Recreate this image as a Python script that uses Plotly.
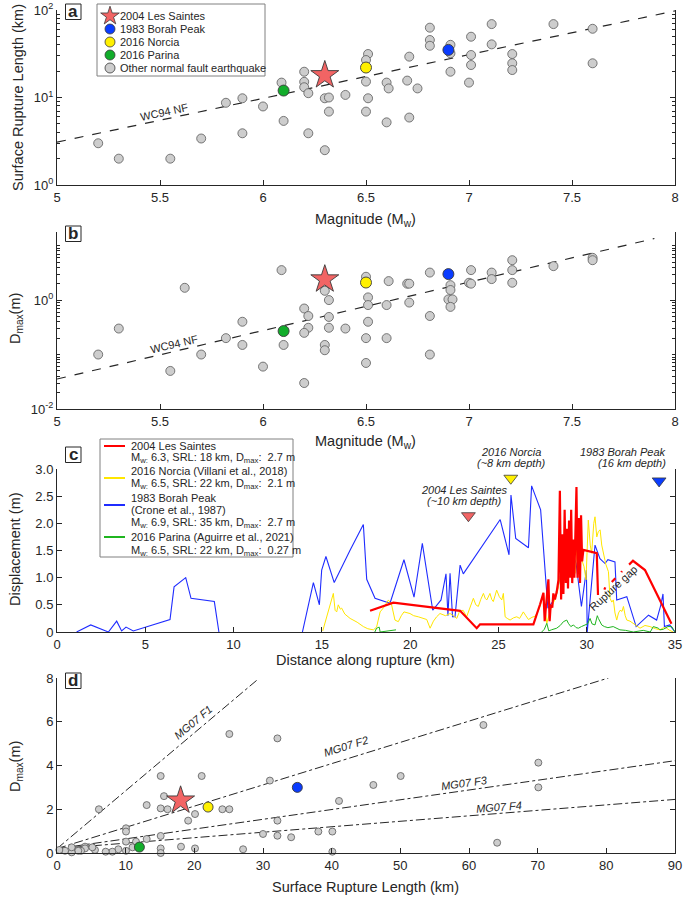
import plotly.graph_objects as go

W, H = 685, 900
FONT = "Liberation Sans, Arial, Helvetica, sans-serif"
INK = "#262626"
GREY_FILL = "#cdcdcd"
GREY_EDGE = "#5a5a5a"
C_RED, C_BLUE, C_YEL, C_GRN = "#f26464", "#0a3cff", "#fff000", "#12ad2b"

# ---------------- data ----------------
event_names = ["2004 Les Saintes", "1983 Borah Peak", "2016 Norcia", "2016 Parina"]
event_mag = [6.3, 6.9, 6.5, 6.1]
event_srl = [18, 35, 22, 12]
event_dmax = [2.4, 3.0, 2.1, 0.27]

# panel a: other normal-fault earthquakes (Mw, SRL km)
a_mag = [5.2, 5.3, 5.55, 5.7, 5.82, 5.9, 5.9, 6.0, 6.09, 6.1, 6.2, 6.2, 6.2, 6.22, 6.22,
         6.3, 6.32, 6.32, 6.3, 6.4, 6.51, 6.5, 6.5, 6.51, 6.5, 6.6, 6.61, 6.6, 6.71, 6.7,
         6.75, 6.71, 6.81, 6.81, 6.81, 6.91, 6.91, 6.91, 7.01, 7.01, 7.01, 7.0, 7.11, 7.11,
         7.21, 7.21, 7.21, 7.41, 7.6, 7.6]
a_srl = [3.0, 2.0, 2.0, 3.4, 8.7, 9.8, 3.9, 7.9, 14.8, 5.4, 19.7, 15.1, 13.1, 11.2, 3.9,
         9.8, 10.0, 6.9, 2.5, 10.7, 31.4, 26.8, 15.2, 9.8, 6.9, 14.8, 12.7, 5.2, 29.3, 15.6,
         12.7, 5.9, 62.8, 45.4, 39.0, 40.0, 32.0, 19.7, 49.5, 30.6, 23.5, 14.8, 69.0, 40.5,
         31.4, 24.6, 20.6, 69.0, 61.0, 24.6]
wc94_srl_mag = [5.0, 8.0]
wc94_srl_val = [3.09, 97.7]

# panel b: other normal-fault earthquakes (Mw, Dmax m)
b_mag = [5.2, 5.3, 5.55, 5.62, 5.7, 5.82, 5.9, 5.9, 6.0, 6.09, 6.1, 6.2, 6.22, 6.22, 6.2,
         6.2, 6.3, 6.32, 6.32, 6.32, 6.3, 6.3, 6.4, 6.5, 6.51, 6.51, 6.51, 6.5, 6.5, 6.61,
         6.6, 6.6, 6.7, 6.71, 6.71, 6.81, 6.81, 6.81, 6.91, 6.91, 6.9, 6.92, 6.91, 7.01,
         7.0, 7.01, 7.11, 7.11, 7.21, 7.21, 7.21, 7.41, 7.6, 7.6]
b_dmax = [0.1, 0.3, 0.05, 1.68, 0.1, 0.2, 0.4, 0.15, 0.06, 3.55, 0.15, 0.7, 0.51, 0.31, 0.25,
          0.03, 1.48, 1.0, 0.49, 0.31, 0.15, 0.12, 0.3, 2.68, 1.12, 0.81, 0.4, 0.2, 0.07, 2.23,
          0.81, 0.2, 2.0, 2.0, 0.9, 3.2, 0.51, 0.1, 1.88, 1.53, 1.03, 1.03, 0.75, 3.55,
          2.08, 2.0, 3.2, 2.43, 5.4, 3.55, 2.08, 4.2, 5.97, 5.4]
wc94_md_mag = [5.0, 7.9]
wc94_md_val = [0.0355, 13.5]

# panel c: displacement profiles (distance km, displacement m)
saintes_d = [17.73, 19.05, 22.83, 23.77, 23.96, 26.98, 27.36, 27.55, 27.62, 27.70, 27.83, 27.90,
             27.96, 28.05, 28.11, 28.20, 28.30, 28.40, 28.48, 28.55, 28.62, 28.68, 28.75, 28.82,
             28.88, 28.94, 29.00, 29.06, 29.12, 29.18, 29.24, 29.30, 29.36, 29.42, 29.48, 29.55,
             29.62, 29.68, 29.74, 29.81, 30.57, 30.64, None, 31.00, 31.05, None, 31.42, 31.62,
             None, 31.96, 32.00, None, 32.40, 32.62, 33.30, 34.80]
saintes_v = [0.39, 0.54, 0.39, 0.07, 0.14, 0.14, 0.51, 0.72, 0.20, 0.45, 0.97, 0.20,
             0.50, 0.45, 0.71, 0.60, 0.74, 0.96, 2.60, 0.60, 1.80, 0.70, 2.25, 0.90,
             1.90, 0.80, 2.05, 1.00, 2.25, 0.90, 1.70, 1.00, 2.05, 2.67, 1.00, 2.10,
             0.90, 2.15, 1.30, 1.51, 1.45, 0.68, None, 0.78, 0.82, None, 0.92, 0.99,
             None, 1.10, 1.12, None, 1.24, 1.31, 1.14, 0.15]

norcia_d = [15.05, 15.35, 15.65, 15.75, 15.84, 15.93, 16.05, 16.12, 16.3, 16.6, 17.0, 17.35, 17.6,
            17.92, 18.1, 18.3, 18.5, 18.77, 18.95, 19.14, 19.33, 19.5, 19.65, 19.99, 20.2, 20.46,
            20.7, 20.94, 21.13, 21.32, 21.5, 21.69, 22.0, 22.26, 22.45, 22.64, 22.8, 23.0, 23.2,
            23.4, 23.58, 23.72, 23.86, 24.0, 24.15, 24.25, 24.34, 24.52, 24.62, 24.71, 24.9,
            25.05, 25.19, 25.28, 25.38, 25.5, 25.66, 25.85, 26.04, 26.2, 26.41, 26.55, 26.7,
            26.9, 27.07, 27.2, 27.36, 27.55, 27.74, 27.9, 28.02, 28.2, 28.35, 28.49, 28.6, 28.75,
            28.87, 29.0, 29.1, 29.2, 29.34, 29.45, 29.53, 29.62, 29.72, 29.85, 29.96, 30.09,
            30.2, 30.28, 30.4, 30.47, 30.57, 30.66, 30.76, 30.85, 30.94, 31.08, 31.23, 31.32,
            31.42, 31.51, 31.6, 31.7, 31.8, 31.89, 32.0, 32.08, 32.18, 32.27, 32.45, 32.64,
            32.8, 33.02, 33.3, 33.58, 33.9, 34.15, 34.35, 34.53, 34.7, 34.9]
norcia_v = [0.02, 0.35, 0.71, 0.40, 0.37, 0.50, 0.42, 0.44, 0.33, 0.25, 0.18, 0.10, 0.06,
            0.04, 0.09, 0.37, 0.45, 0.59, 0.50, 0.22, 0.19, 0.30, 0.37, 0.34, 0.30, 0.28,
            0.25, 0.23, 0.07, 0.20, 0.28, 0.34, 0.30, 0.34, 0.30, 0.25, 0.38, 0.40, 0.28,
            0.45, 0.62, 0.50, 0.47, 0.60, 0.71, 0.62, 0.59, 0.71, 0.60, 0.56, 0.77,
            0.65, 0.59, 0.71, 0.28, 0.25, 0.22, 0.26, 0.28, 0.25, 0.37, 0.30, 0.23,
            0.27, 0.29, 0.35, 0.47, 0.72, 0.16, 0.35, 0.47, 0.60, 0.75, 1.02, 0.95, 1.30,
            1.51, 1.20, 1.05, 1.30, 1.08, 1.60, 1.69, 1.40, 1.33, 1.20, 0.96, 2.06,
            1.60, 1.45, 2.00, 2.12, 1.75, 1.85, 1.88, 1.60, 1.45, 1.25, 1.11, 0.62,
            0.55, 0.59, 0.35, 0.22, 0.35, 0.40, 0.38, 0.47, 0.30, 0.22, 0.20, 0.16,
            0.12, 0.07, 0.12, 0.10, 0.06, 0.04, 0.08, 0.07, 0.03, 0.0]

borah_d = [1.11, 1.91, 2.91, 3.38, 3.66, 3.91, 4.32, 6.40, 6.63, 7.29, 7.59, 8.91, 9.17, None,
           13.90, 14.52, 14.86, 14.99, 15.23, 15.70, 16.59, 17.35, 17.54, 18.01, 18.86, 19.65,
           20.22, 20.69, 21.28, 21.75, 22.03, 22.14, 22.26, 22.40, 22.54, 22.83, 23.01, 25.10,
           25.60, 25.71, 25.98, 26.70, 26.88, 27.39, 27.80, 28.08, 28.30, 28.77, 29.06, 29.40,
           29.70, 29.98, 30.03, 30.47, 30.75, 31.04, 31.20, 31.60, 31.70, 32.27, 32.80, 33.50,
           33.96, 34.20, 34.32, 34.40, 34.70, 34.90, 35.00]
borah_v = [0.0, 0.13, 0.0, 0.20, 0.02, 0.09, 0.02, 0.23, 0.83, 1.00, 0.62, 0.56, 0.0, None,
           0.0, 0.91, 0.50, 1.14, 1.39, 0.91, 1.50, 1.98, 0.97, 0.62, 0.53, 1.33,
           0.64, 1.63, 0.40, 0.59, 1.07, 0.30, 1.08, 0.28, 0.28, 1.23, 1.07, 2.07,
           1.42, 2.52, 1.72, 1.55, 2.69, 2.25, 0.44, 0.56, 0.71, 1.45, 1.57, 1.26,
           0.47, 1.14, 0.0, 1.60, 1.35, 1.26, 1.33, 1.29, 0.59, 0.65, 0.10, 0.31,
           0.22, 0.50, 0.70, 0.10, 0.13, 0.04, 0.0]

parina_d = [18.0, 18.1, 18.25, 18.3, 19.2, None, 27.45, 27.6, 27.74, 27.85, 28.0, 28.3, 28.5,
            28.68, 28.87, 28.96, 29.1, 29.25, 29.4, 29.53, 29.7, 29.9, 30.05, 30.19, 30.3,
            30.47, 30.6, 30.66, 30.85, 31.0, 31.2, 31.5, 31.88, 32.2, 32.64, 33.2, 33.6,
            33.77, 34.06, 34.15, 34.34, 34.6, 34.81, 35.0]
parina_v = [0.0, 0.07, 0.09, 0.0, 0.04, None, 0.0, 0.05, 0.16, 0.02, 0.04, 0.07, 0.12,
            0.19, 0.22, 0.16, 0.10, 0.13, 0.08, 0.07, 0.10, 0.13, 0.15, 0.25, 0.15,
            0.13, 0.30, 0.25, 0.13, 0.10, 0.08, 0.10, 0.04, 0.03, 0.0, 0.03, 0.0,
            0.10, 0.07, 0.04, 0.05, 0.10, 0.10, 0.0]

epi_d = [23.3, 25.7, 34.1]
epi_v = [2.14, 2.83, 2.78]

# panel d: other normal-fault earthquakes (SRL km, Dmax m)
d_srl = [6.1, 13.06, 15.1, 15.58, 15.1, 16.1, 19.1, 20.1, 21.07, 24.08, 25.1, 25.1, 31.0, 32.1,
         32.1, 30.0, 32.1, 34.1, 38.06, 40.1, 40.1, 41.07, 27.1, 20.1, 18.06, 15.1, 15.1, 15.1,
         13.06, 11.5, 10.05, 10.05, 10.05, 10.05, 11.0, 8.93, 8.06, 7.09, 5.53, 5.15, 4.08,
         4.08, 3.5, 3.1, 2.14, 2.14, 1.17, 0.34, 62.1, 70.1, 70.1, 50.05, 46.07, 64.1]
d_dmax = [2.0, 2.19, 3.52, 2.6, 2.04, 2.0, 1.48, 1.78, 3.52, 2.0, 2.0, 5.44, 3.31, 5.24,
          1.48, 0.87, 0.79, 0.72, 0.98, 0.98, 0.06, 2.38, 0.17, 0.21, 0.29, 0.21, 0.0, 0.78,
          0.64, 0.52, 1.13, 0.98, 0.52, 0.1, 0.26, 0.17, 0.06, 0.06, 0.14, 0.26, 0.29,
          0.21, 0.1, 0.1, 0.03, 0.26, 0.1, 0.14, 5.85, 4.13, 3.0, 3.52, 3.11, 0.47]
mg07_names = ["MG07 F1", "MG07 F2", "MG07 F3", "MG07 F4"]
mg07_L = [[0, 29.3], [0, 80.3], [0, 90], [0, 90]]
mg07_D = [[0.2, 7.95], [0.2, 8.0], [0.2, 4.22], [0.2, 2.45]]

# ---------------- figure ----------------
fig = go.Figure()


def grey(x, y, xa, ya, size):
    fig.add_trace(go.Scatter(x=x, y=y, mode="markers", xaxis=xa, yaxis=ya, cliponaxis=False,
                             hoverinfo="skip",
                             marker=dict(size=size, color=GREY_FILL,
                                         line=dict(color=GREY_EDGE, width=0.8))))


def events(xs, ys, xa, ya, csize, ssize):
    cols = [C_RED, C_BLUE, C_YEL, C_GRN]
    order = [3, 2, 1, 0]
    for i in order:
        sym = "star" if i == 0 else "circle"
        fig.add_trace(go.Scatter(x=[xs[i]], y=[ys[i]], mode="markers", xaxis=xa, yaxis=ya,
                                 cliponaxis=False, hoverinfo="skip",
                                 marker=dict(symbol=sym, size=ssize if i == 0 else csize,
                                             color=cols[i], line=dict(color="#3a3a3a", width=0.9))))


# panel a
fig.add_trace(go.Scatter(x=wc94_srl_mag, y=wc94_srl_val, mode="lines", xaxis="x", yaxis="y",
                         hoverinfo="skip", line=dict(color=INK, width=1.2, dash="dash")))
grey(a_mag, a_srl, "x", "y", 9)
events(event_mag, event_srl, "x", "y", 11, 21)

# panel b
fig.add_trace(go.Scatter(x=wc94_md_mag, y=wc94_md_val, mode="lines", xaxis="x2", yaxis="y2",
                         hoverinfo="skip", line=dict(color=INK, width=1.2, dash="dash")))
grey(b_mag, b_dmax, "x2", "y2", 9)
events(event_mag, event_dmax, "x2", "y2", 11, 21)

# panel c
for dd, vv, col, w in [(borah_d, borah_v, "#1f2cff", 1.1), (norcia_d, norcia_v, "#ffe600", 1.0),
                       (parina_d, parina_v, "#1fb51f", 1.0), (saintes_d, saintes_v, "#ff0000", 2.2)]:
    fig.add_trace(go.Scatter(x=dd, y=vv, mode="lines", xaxis="x3", yaxis="y3", hoverinfo="skip",
                             line=dict(color=col, width=w), connectgaps=False))
fig.add_trace(go.Scatter(x=epi_d, y=epi_v, mode="markers", xaxis="x3", yaxis="y3", cliponaxis=False,
                         hoverinfo="skip",
                         marker=dict(symbol="triangle-down", size=12, color=[C_RED, C_YEL, C_BLUE],
                                     line=dict(color="#3a3a3a", width=0.8))))

# panel d
for L, D in zip(mg07_L, mg07_D):
    fig.add_trace(go.Scatter(x=L, y=D, mode="lines", xaxis="x4", yaxis="y4", hoverinfo="skip",
                             line=dict(color=INK, width=1, dash="dashdot")))
grey(d_srl, d_dmax, "x4", "y4", 7)
events(event_srl, event_dmax, "x4", "y4", 10, 21)

# legend glyphs for panel a on a pixel overlay axis
leg_rows = [16, 29, 42, 55, 68]
leg_cols = [C_RED, C_BLUE, C_YEL, C_GRN, GREY_FILL]
leg_syms = ["star", "circle", "circle", "circle", "circle"]
for yy, cc, ss in zip(leg_rows, leg_cols, leg_syms):
    fig.add_trace(go.Scatter(x=[110], y=[yy], mode="markers", xaxis="x5", yaxis="y5", cliponaxis=False,
                             hoverinfo="skip",
                             marker=dict(symbol=ss, size=14 if ss == "star" else 10, color=cc,
                                         line=dict(color="#3a3a3a", width=0.8))))


def ax(**kw):
    d = dict(showline=True, linecolor=INK, linewidth=1, ticks="inside", ticklen=5, tickcolor=INK,
             tickwidth=1, showgrid=False, zeroline=False, automargin=False, fixedrange=True,
             tickfont=dict(family=FONT, size=13, color=INK))
    d.update(kw)
    return d


xdom = [57 / W, 675 / W]


def ydom(top, bot):
    return [1 - bot / H, 1 - top / H]


minor_a = [k * 10 ** e for e in (0, 1) for k in range(2, 10)]
minor_b = [k * 10 ** e for e in (-2, -1, 0) for k in range(1, 10) if not (e == -2 and k == 1)] + [10]
mag_ticks = [5, 5.5, 6, 6.5, 7, 7.5, 8]
mag_text = ["5", "5.5", "6", "6.5", "7", "7.5", "8"]

layout = dict(
    width=W, height=H, margin=dict(l=0, r=0, t=0, b=0), paper_bgcolor="white",
    plot_bgcolor="rgba(0,0,0,0)", showlegend=False, template="none", hovermode=False,
    font=dict(family=FONT, color=INK),
    xaxis=ax(domain=xdom, range=[5, 8], tickvals=mag_ticks, ticktext=mag_text, anchor="y"),
    yaxis=ax(domain=ydom(10, 185), type="log", range=[0, 2], tickvals=[1, 10, 100],
             ticktext=["10<sup>0</sup>", "10<sup>1</sup>", "10<sup>2</sup>"], mirror="ticks", anchor="x",
             minor=dict(tickmode="array", tickvals=minor_a, ticks="inside", ticklen=3, tickcolor=INK)),
    xaxis2=ax(domain=xdom, range=[5, 8], tickvals=mag_ticks, ticktext=mag_text, anchor="y2"),
    yaxis2=ax(domain=ydom(232, 409), type="log", range=[-2, 1.25], tickvals=[0.01, 1],
              ticktext=["10<sup>-2</sup>", "10<sup>0</sup>"], mirror="ticks", anchor="x2",
              minor=dict(tickmode="array", tickvals=minor_b, ticks="inside", ticklen=3, tickcolor=INK)),
    xaxis3=ax(domain=xdom, range=[0, 35], tickvals=[0, 5, 10, 15, 20, 25, 30, 35], anchor="y3"),
    yaxis3=ax(domain=ydom(469, 632), range=[0, 3], tickvals=[0, 0.5, 1, 1.5, 2, 2.5, 3],
              ticktext=["0", "0.5", "1.0", "1.5", "2.0", "2.5", "3.0"], mirror="ticks", anchor="x3"),
    xaxis4=ax(domain=xdom, range=[0, 90], tickvals=list(range(0, 91, 10)), anchor="y4"),
    yaxis4=ax(domain=ydom(678, 853), range=[0, 8], tickvals=[0, 2, 4, 6, 8], mirror="ticks", anchor="x4"),
    xaxis5=dict(domain=[0, 1], range=[0, W], visible=False, fixedrange=True, anchor="y5"),
    yaxis5=dict(domain=[0, 1], range=[H, 0], visible=False, fixedrange=True, anchor="x5"),
)
fig.update_layout(**layout)

annotations = []
shapes = []


def note(text, x, y, size=11, xanchor="center", yanchor="middle", angle=0, italic=False,
         xref="paper", yref="paper", **kw):
    if xref == "paper":
        x = x / W
    if yref == "paper":
        y = 1 - y / H
    if italic:
        text = "<i>" + text + "</i>"
    a = dict(text=text, x=x, y=y, xref=xref, yref=yref, xanchor=xanchor, yanchor=yanchor,
             showarrow=False, textangle=angle, font=dict(family=FONT, size=size, color=INK))
    a.update(kw)
    annotations.append(a)


def rect(x0, y0, x1, y1, color=INK, width=1):
    shapes.append(dict(type="rect", xref="paper", yref="paper", x0=x0 / W, x1=x1 / W,
                       y0=1 - y1 / H, y1=1 - y0 / H, line=dict(color=color, width=width)))


# axis titles
note("Surface Rupture Length (km)", 18, 98, size=14.5, angle=-90)
note("Magnitude (M<sub>w</sub>)", 366, 220, size=14.5)
note("D<sub>max</sub>(m)", 16, 318, size=14.5, angle=-90)
note("Magnitude (M<sub>w</sub>)", 366, 442, size=14.5)
note("Displacement (m)", 15, 549, size=14.5, angle=-90)
note("Distance along rupture (km)", 366, 660, size=14.5)
note("D<sub>max</sub>(m)", 16, 766, size=14.5, angle=-90)
note("Surface Rupture Length (km)", 366, 887, size=14.5)

# panel letters
for letter, (x0, y0) in zip("abcd", [(65.5, 4), (65.5, 226), (65.5, 447), (65.5, 673)]):
    rect(x0, y0, x0 + 15.5, y0 + 15.5)
    note("<b>" + letter + "</b>", x0 + 7.75, y0 + 7.5, size=17)

# panel a legend
rect(97, 4, 265, 76, color="#808080")
for yy, nm in zip(leg_rows, event_names + ["Other normal fault earthquake"]):
    note(nm, 118, yy, size=11, xanchor="left")

# regression labels
note("WC94 NF", 5.52, 0.75, size=11, angle=-12.2, xref="x", yref="y", yshift=7)
note("WC94 NF", 5.57, -0.943, size=11, angle=-13.2, xref="x2", yref="y2", yshift=7)

# panel c legend
rect(100, 439, 293, 557, color="#808080")
for yy, col in zip([446, 478, 505, 537], ["#ff0000", "#ffe600", "#1f2cff", "#1fb51f"]):
    shapes.append(dict(type="line", xref="paper", yref="paper", x0=104 / W, x1=125 / W,
                       y0=1 - yy / H, y1=1 - yy / H, line=dict(color=col, width=2)))
leg_c_lines = [
    (446, "2004 Les Saintes"),
    (458, "M<sub>w:</sub> 6.3, SRL: 18 km, D<sub>max</sub>:  2.7 m"),
    (471, "2016 Norcia (Villani et al., 2018)"),
    (484, "M<sub>w:</sub> 6.5, SRL: 22 km, D<sub>max</sub>:  2.1 m"),
    (498, "1983 Borah Peak"),
    (510, "(Crone et al., 1987)"),
    (523, "M<sub>w:</sub> 6.9, SRL: 35 km, D<sub>max</sub>:  2.7 m"),
    (537, "2016 Parina (Aguirre et al., 2021)"),
    (551, "M<sub>w:</sub> 6.5, SRL: 22 km, D<sub>max</sub>:  0.27 m"),
]
for yy, t in leg_c_lines:
    note(t, 129, yy, size=11, xanchor="left")

# epicentre labels
note("2004 Les Saintes", 465, 490, italic=True)
note("(~10 km depth)", 465, 501, italic=True)
note("2016 Norcia", 511, 452, italic=True)
note("(~8 km depth)", 511, 463, italic=True)
note("1983 Borah Peak", 668, 452, italic=True, xanchor="right")
note("(16 km depth)", 668, 463, italic=True, xanchor="right")
note("Rupture gap", 31.5, 0.81, size=11, angle=-43, xref="x3", yref="y3")

# MG07 labels
note("MG07 F1", 19.85, 6.0, italic=True, angle=-40.1, xref="x4", yref="y4")
note("MG07 F2", 42.1, 4.89, italic=True, angle=-17.2, xref="x4", yref="y4")
note("MG07 F3", 59.4, 3.2, italic=True, angle=-8.1, xref="x4", yref="y4")
note("MG07 F4", 64.3, 2.12, italic=True, angle=-4.6, xref="x4", yref="y4")

fig.update_layout(annotations=annotations, shapes=shapes)
fig.write_html("out.html", config={"displayModeBar": False, "staticPlot": True},
               post_script="document.body.style.margin='0px';document.body.style.overflow='hidden';")
